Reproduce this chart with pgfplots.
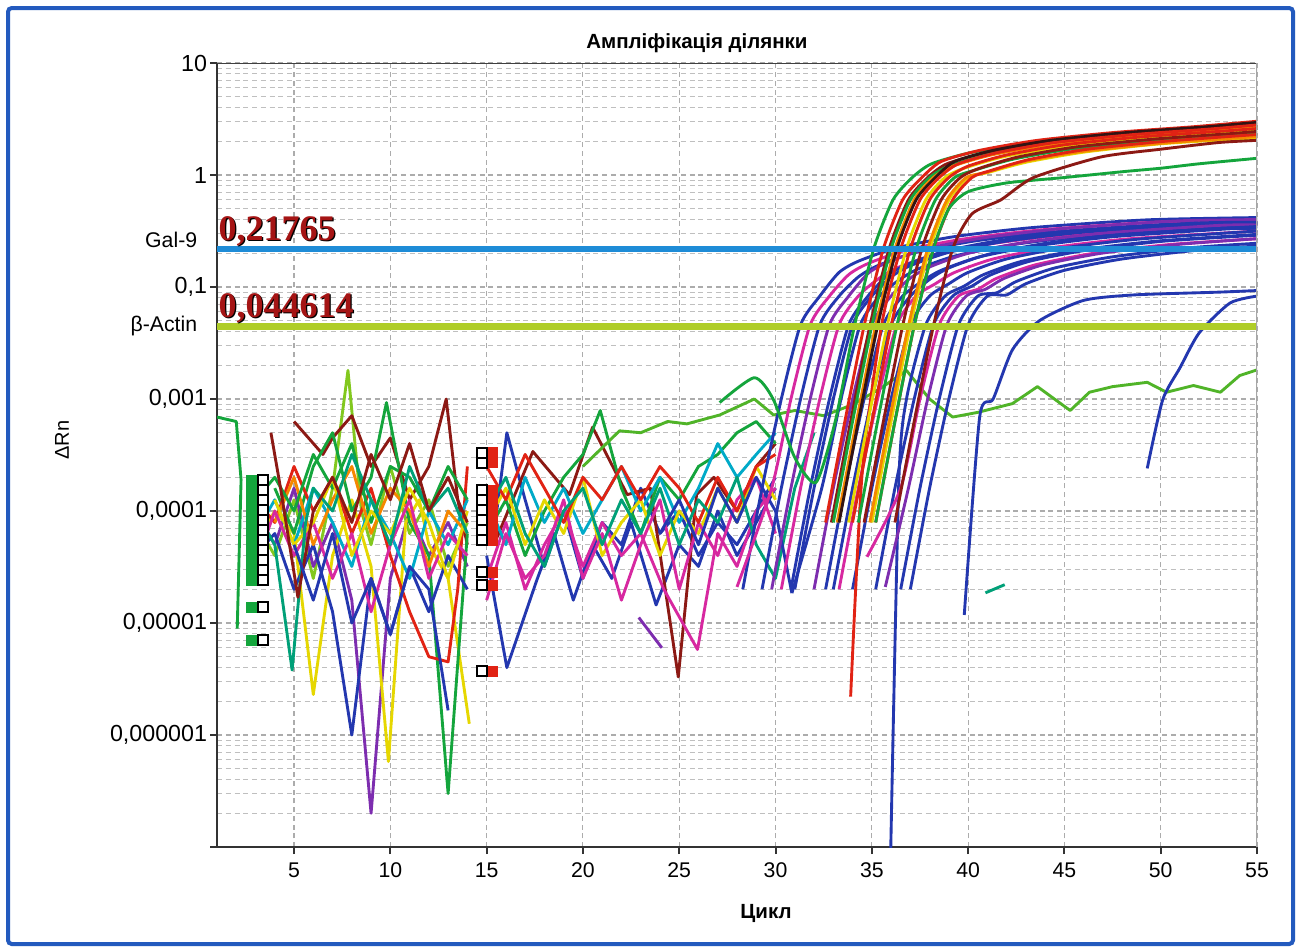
\documentclass[border=0pt]{standalone}
\usepackage{fontspec}
\setmainfont{Liberation Sans}
\newfontfamily\numfont{Liberation Serif}
\usepackage{pgfplots}
\pgfplotsset{compat=1.18}

\definecolor{cgreen}{RGB}{20,165,60}
\definecolor{clgreen}{RGB}{80,180,40}
\definecolor{clime}{RGB}{130,200,30}
\definecolor{cyellow}{RGB}{230,215,0}
\definecolor{cred}{RGB}{225,35,20}
\definecolor{cdred}{RGB}{140,25,20}
\definecolor{cdark}{RGB}{50,20,20}
\definecolor{cblue}{RGB}{35,55,175}
\definecolor{cpurple}{RGB}{125,45,175}
\definecolor{cmag}{RGB}{215,40,160}
\definecolor{ccyan}{RGB}{0,170,200}
\definecolor{corange}{RGB}{245,135,0}
\definecolor{cteal}{RGB}{0,160,120}
\definecolor{galblue}{RGB}{30,140,215}
\definecolor{actgreen}{RGB}{175,205,40}
\definecolor{frameblue}{RGB}{35,90,190}
\definecolor{numred}{RGB}{165,20,20}

\pgfplotsset{
  noise/.style={line width=1.15pt, line join=round},
  amp/.style={line width=1.15pt, line join=round, smooth, tension=0.4},
}

\begin{document}
\begin{tikzpicture}
\fill[white] (0,0) rectangle (520.4pt,-380.8pt);
\draw[frameblue, line width=1.6pt, rounded corners=1.5pt] (3.2pt,-3.2pt) rectangle (517.2pt,-377.6pt);

\begin{axis}[
  at={(86.8pt,-338.8pt)}, anchor=south west,
  scale only axis, width=416pt, height=313.6pt,
  xmin=1, xmax=55, ymode=log, ymin=1e-6, ymax=10,
  axis x line*=bottom, axis y line*=left,
  axis line style={line width=1.1pt, black!80},
  tick align=outside, major tick length=2.8pt, minor tick length=0pt,
  tick style={black!80, line width=0.8pt},
  xtick={5,10,...,55},
  ytick={10,1,0.1,0.01,0.001,0.0001,0.00001,0.000001},
  yticklabels={10,1,{0,1},{0,001},{0,0001},{0,00001},{0,000001},{}},
  minor ytick={2e-6,3e-6,4e-6,5e-6,6e-6,7e-6,8e-6,9e-6,2e-5,3e-5,4e-5,5e-5,6e-5,7e-5,8e-5,9e-5,2e-4,3e-4,4e-4,5e-4,6e-4,7e-4,8e-4,9e-4,0.002,0.003,0.004,0.005,0.006,0.007,0.008,0.009,0.02,0.03,0.04,0.05,0.06,0.07,0.08,0.09,0.2,0.3,0.4,0.5,0.6,0.7,0.8,0.9,2,3,4,5,6,7,8,9},
  /pgf/number format/assume math mode=true,
  xticklabel style={font=\fontsize{8.5}{10}\selectfont},
  yticklabel style={font=\fontsize{9.3}{10}\selectfont, inner sep=1pt},
  xmajorgrids, ymajorgrids, yminorgrids,
  major grid style={dash pattern=on 2pt off 1.5pt, gray!65, line width=0.45pt},
  minor grid style={dash pattern=on 2pt off 1.5pt, gray!50, line width=0.45pt},
]

% --- baseline noise, cycles 1-14
\addplot[noise, cgreen] coordinates {(1,6.9e-3)(2,6.3e-3)(2.25,1.9e-3)(2.05,8.9e-5)};
\addplot[noise, clime] coordinates {(3,7.9e-4)(4,4.0e-4)(5,1.26e-3)(6,2.5e-4)(7,1.6e-3)(7.8,1.8e-2)(8.5,1.0e-3)(9,5.0e-4)(10,2.5e-3)(11,6.3e-4)(12,1.26e-3)(13,3.2e-4)(14,7.9e-4)};
\addplot[noise, cdred] coordinates {(5,6.3e-3)(6.5,3.2e-3)(7,4.5e-3)(8,7.1e-3)(9,2.5e-3)(10,4.5e-3)(11,1.26e-3)(12,2.5e-3)(12.9,1.0e-2)(13.5,1.26e-3)(14,5.0e-4)};
\addplot[noise, cpurple] coordinates {(3,1.0e-3)(4,5.0e-4)(5,1.6e-3)(6,3.2e-4)(7,7.9e-4)(8,1.6e-4)(9,2.0e-6)(10,2.5e-4)(11,1.0e-3)(12,4.0e-4)(13,7.9e-4)(14,3.2e-4)};
\addplot[noise, cyellow] coordinates {(3,5.0e-4)(4,1.0e-3)(5,6.3e-4)(6,2.3e-5)(7,4.0e-4)(8,1.26e-3)(9,3.2e-4)(9.9,5.8e-6)(10.8,7.9e-4)(11.5,1.26e-3)(12,5.0e-4)(13,2.5e-4)(14.1,1.26e-5)};
\addplot[noise, cgreen] coordinates {(4,1.6e-3)(5,6.3e-4)(6,2.5e-3)(7,5.0e-3)(8,1.0e-3)(9,2.0e-3)(9.8,9.3e-3)(11,7.9e-4)(12,4.0e-4)(13,3.0e-6)(14,6.3e-4)};
\addplot[noise, cblue] coordinates {(3,4.0e-4)(4,6.3e-4)(5,2.0e-4)(6,5.0e-4)(7,1.26e-4)(8,1.0e-5)(9,2.5e-4)(10,7.9e-5)(11,3.2e-4)(12,1.26e-4)(13,4.0e-4)(14,2.0e-4)};
\addplot[noise, cred] coordinates {(3,1.26e-3)(4,7.9e-4)(5,2.5e-3)(6,1.0e-3)(7,2.0e-3)(8,6.3e-4)(9,1.6e-3)(10,4.0e-4)(11,1.26e-4)(12,5.0e-5)(13,4.5e-5)(13.5,2.0e-4)(14,2.5e-3)};
\addplot[noise, ccyan] coordinates {(3,6.3e-4)(4,1.26e-3)(5,5.0e-4)(6,1.6e-3)(7,7.9e-4)(8,3.2e-4)(9,1.26e-3)(10,6.3e-4)(11,2.5e-4)(12,1.0e-3)(13,5.0e-4)(14,1.26e-3)};
\addplot[noise, corange] coordinates {(4,7.9e-4)(5,2.0e-3)(6,5.0e-4)(7,1.26e-3)(8,2.5e-3)(9,6.3e-4)(10,1.6e-3)(11,1.0e-3)(12,3.2e-4)(13,1.0e-3)(14,6.3e-4)};
\addplot[noise, cmag] coordinates {(3,3.2e-4)(4,1.0e-3)(5,4.0e-4)(6,7.9e-4)(7,2.5e-4)(8,6.3e-4)(9,1.26e-4)(10,5.0e-4)(11,1.26e-3)(12,2.5e-4)(13,6.3e-4)(14,4.0e-4)};
\addplot[noise, cgreen] coordinates {(3,1.26e-3)(4,2.0e-3)(5,1.0e-3)(6,3.2e-3)(7,1.6e-3)(8,4.0e-3)(9,7.9e-4)(10,2.5e-3)(11,2.0e-3)(12,1.0e-3)(13,2.5e-3)(14,1.26e-3)};
\addplot[noise, cyellow] coordinates {(4,1.26e-3)(5,5.0e-4)(6,7.9e-4)(7,2.0e-3)(8,4.0e-4)(9,1.0e-3)(10,6.3e-4)(11,1.6e-3)(12,7.9e-4)(13,2.5e-4)(14,1.0e-3)};
\addplot[noise, cteal] coordinates {(3,1.0e-3)(4,5.0e-4)(4.9,3.8e-5)(5.6,7.9e-4)(6,1.6e-3)(7,1.0e-3)(8,3.2e-3)(9,1.26e-3)(10,5.0e-4)(11,2.5e-3)(12,1.0e-3)(13,1.6e-3)(14,6.3e-4)};
\addplot[noise, cdred] coordinates {(3.8,5.0e-3)(4.3,1.6e-3)(5.2,1.7e-4)(6,1.0e-3)(7,2.0e-3)(8,7.9e-4)(9,3.2e-3)(10,1.26e-3)(11,4.0e-3)(12,1.0e-3)(13,2.0e-3)(14,7.9e-4)};
\addplot[noise, cblue] coordinates {(5,5.0e-4)(6,1.6e-4)(7,6.3e-4)(8,1.0e-4)(9,2.5e-4)(10,7.9e-5)(11,3.2e-4)(12,2.0e-4)(13,1.66e-5)};

% --- baseline noise, cycles 15-31
\addplot[noise, cblue] coordinates {(15,4.0e-4)(16.05,4.0e-5)(17.6,2.4e-4)(18.5,6.3e-4)(19.5,1.6e-4)(20.5,5.0e-4)(21.5,2.5e-4)(22.5,7.9e-4)(23.8,1.45e-4)(25,5.0e-4)(26,3.2e-4)(27,1.0e-3)(28,4.0e-4)(29,7.9e-4)(30,1.6e-3)};
\addplot[noise, cblue] coordinates {(15.3,5.0e-4)(16.05,5.0e-3)(17,1.26e-3)(18,3.2e-4)(19,1.0e-3)(20,2.5e-4)(21,7.9e-4)(22,5.0e-4)(23,1.6e-3)(24,6.3e-4)(25,1.0e-3)(26,4.0e-4)(27,7.9e-4)(28,5.0e-4)(29,1.0e-3)(30,2.0e-3)};
\addplot[noise, cdred] coordinates {(15,1.0e-3)(15.5,5.6e-4)(17.4,3.4e-3)(19.3,1.4e-3)(20.5,5.6e-3)(22.3,1.4e-3)(23.5,1.6e-3)(24.95,3.3e-5)(25.9,1.4e-3)(26.8,2.0e-3)(28,1.0e-3)(29,2.5e-3)(30,4.0e-3)};
\addplot[noise, cmag] coordinates {(15,2.5e-4)(16,7.9e-4)(17,2.0e-4)(18,5.0e-4)(19,1.0e-3)(20,3.2e-4)(21,7.9e-4)(22,4.0e-4)(23,6.3e-4)(24.2,2.0e-4)(25.95,5.8e-5)(27,6.3e-4)(28,3.2e-4)(29,1.0e-3)(30,1.6e-3)};
\addplot[noise, cgreen] coordinates {(15,6.3e-4)(16,1.26e-3)(17,4.0e-4)(18,1.0e-3)(19,2.0e-3)(20,3.2e-3)(20.9,7.9e-3)(22,1.6e-3)(23,6.3e-4)(24,2.0e-3)(25,1.26e-3)(26,2.5e-3)(27,3.2e-3)(28,5.0e-3)(29,6.3e-3)(30,4.0e-3)};
\addplot[noise, cpurple] coordinates {(22.9,1.12e-4)(24.1,6.0e-5)};
\addplot[noise, ccyan] coordinates {(15,1.26e-3)(16,5.0e-4)(17,2.0e-3)(18,7.9e-4)(19,1.6e-3)(20,6.3e-4)(21,1.26e-3)(22,2.5e-3)(23,1.0e-3)(24,2.0e-3)(25,7.9e-4)(26,1.6e-3)(27,4.0e-3)(28,2.0e-3)(29,3.2e-3)(30,5.0e-3)};
\addplot[noise, cyellow] coordinates {(15,7.9e-4)(16,1.6e-3)(17,5.0e-4)(18,1.26e-3)(19,6.3e-4)(20,2.0e-3)(21,4.0e-4)(22,7.9e-4)(23,1.26e-3)(24,4.0e-4)(25,1.0e-3)(26,6.3e-4)(27,1.6e-3)(28,7.9e-4)(29,2.5e-3)(30,1.26e-3)};
\addplot[noise, cmag] coordinates {(15,1.6e-4)(16,6.3e-4)(17,2.5e-4)(18,4.0e-4)(19,1.26e-3)(20,2.5e-4)(21,6.3e-4)(22,1.6e-4)(23,5.0e-4)(24,1.26e-3)(25,2.0e-4)(26,7.9e-4)(27,4.0e-4)(28,1.26e-3)(29,2.0e-3)(30,6.3e-4)};
\addplot[noise, cred] coordinates {(15,2.5e-3)(16,1.26e-3)(17,3.2e-3)(18,1.6e-3)(19,7.9e-4)(20,2.0e-3)(21,1.26e-3)(22,2.5e-3)(23,1.26e-3)(24,2.5e-3)(25,1.6e-3)(26,7.9e-4)(27,2.0e-3)(28,1.0e-3)(29,2.5e-3)(30,3.2e-3)};
\addplot[noise, cteal] coordinates {(15,1.0e-3)(16,2.0e-3)(17,6.3e-4)(18,3.2e-4)(19,1.0e-3)(20,1.6e-3)(21,5.0e-4)(22,1.26e-3)(23,6.3e-4)(24,1.6e-3)(25,5.0e-4)(26,1.26e-3)(27,7.9e-4)(28,2.0e-3)(29,5.0e-4)(30,2.5e-4)(31,1.6e-3)(32,5.0e-3)};
\addplot[noise, cblue] coordinates {(24,6.3e-4)(25,1.26e-3)(26,5.0e-4)(27,1.6e-3)(28,7.9e-4)(29,2.0e-3)(30,1.0e-3)(30.85,1.85e-4)};
\addplot[noise, clgreen] coordinates {(20,2.5e-3)(21.9,5.2e-3)(23,5.0e-3)(24.4,6.3e-3)(25.4,6.0e-3)(27.1,7.2e-3)(28.9,1.0e-2)(29.9,7.2e-3)(31,7.9e-3)(32.5,7.1e-3)(34,8.9e-3)(35.5,1.26e-2)(36.8,1.8e-2)(38,1.0e-2)(39.2,6.9e-3)(40.5,7.6e-3)(42.3,9.1e-3)(43.6,1.29e-2)(45.3,7.9e-3)(46.3,1.15e-2)(47.5,1.29e-2)(49.3,1.41e-2)(50.3,1.15e-2)(51.7,1.32e-2)(53.1,1.15e-2)(54.1,1.62e-2)(55,1.82e-2)};
\addplot[noise, cteal] coordinates {(40.9,1.86e-4)(41.9,2.2e-4)};

% --- Gal-9 wells
\addplot[amp, cblue] coordinates {(28.3,2.0e-4)(29.3,1.6e-3)(30.3,1.0e-2)(31.3,4.6e-2)(32.3,8.3e-2)(33.3,0.135)(34.3,0.17)(36.3,0.224)(39.3,0.282)(43.3,0.339)(49.3,0.398)(55,0.417)};
\addplot[amp, cmag] coordinates {(28,2.1e-4)(29.8,1.6e-3)(30.8,1.0e-2)(31.8,4.6e-2)(32.8,8.3e-2)(33.8,0.129)(34.8,0.162)(36.8,0.214)(39.8,0.269)(43.8,0.324)(49.8,0.38)(55,0.39)};
\addplot[amp, cblue] coordinates {(29.3,2.0e-4)(30.3,1.6e-3)(31.3,1.0e-2)(32.3,4.6e-2)(33.3,8.3e-2)(34.3,0.123)(35.3,0.155)(37.3,0.204)(40.3,0.257)(44.3,0.309)(50.3,0.363)(55,0.37)};
\addplot[amp, cpurple] coordinates {(29.8,2.0e-4)(30.8,1.6e-3)(31.8,1.0e-2)(32.8,4.6e-2)(33.8,8.3e-2)(34.8,0.132)(35.8,0.166)(37.8,0.219)(40.8,0.275)(44.8,0.331)(50.8,0.389)(55,0.40)};
\addplot[amp, cmag] coordinates {(30.3,2.0e-4)(31.3,1.6e-3)(32.3,1.0e-2)(33.3,4.6e-2)(34.3,8.3e-2)(35.3,0.117)(36.3,0.148)(38.3,0.195)(41.3,0.245)(45.3,0.295)(51.3,0.347)(55,0.355)};
\addplot[amp, cblue] coordinates {(30.8,2.0e-4)(31.8,1.6e-3)(32.8,1.0e-2)(33.8,4.6e-2)(34.8,8.3e-2)(35.8,0.126)(36.8,0.158)(38.8,0.209)(41.8,0.263)(45.8,0.316)(51.8,0.372)(55,0.378)};
\addplot[amp, cblue] coordinates {(31,2.0e-4)(32,1.6e-3)(33,1.0e-2)(34,4.6e-2)(35,8.3e-2)(36,0.123)(37,0.155)(39,0.204)(42,0.257)(46,0.309)(52,0.363)(55,0.368)};
\addplot[amp, cblue] coordinates {(30.85,1.85e-4)(32.4,1.6e-3)(33.4,1.0e-2)(34.4,4.6e-2)(35.4,8.3e-2)(36.4,0.115)(37.4,0.145)(39.4,0.191)(42.4,0.240)(46.4,0.288)(52.4,0.339)(55,0.342)};
\addplot[amp, cpurple] coordinates {(32,2.0e-4)(33,1.6e-3)(34,1.0e-2)(35,4.6e-2)(36,8.3e-2)(37,0.120)(38,0.151)(40,0.200)(43,0.251)(47,0.302)(53,0.355)(55,0.358)};
\addplot[amp, cblue] coordinates {(32.6,2.0e-4)(33.6,1.6e-3)(34.6,1.0e-2)(35.6,4.6e-2)(36.6,8.3e-2)(37.6,0.112)(38.6,0.141)(40.6,0.186)(43.6,0.234)(47.6,0.282)(53.6,0.331)(55,0.333)};
\addplot[amp, cblue] coordinates {(33,2.0e-4)(34,1.6e-3)(35,1.0e-2)(36,4.6e-2)(37,8.3e-2)(38,0.117)(39,0.148)(41,0.195)(44,0.245)(48,0.295)(55,0.347)};
\addplot[amp, cmag] coordinates {(33.3,2.0e-4)(34.3,1.6e-3)(35.3,1.0e-2)(36.3,4.6e-2)(37.3,8.3e-2)(38.3,0.107)(39.3,0.135)(41.3,0.178)(44.3,0.224)(48.3,0.269)(55,0.316)};
\addplot[amp, cblue] coordinates {(34,2.0e-4)(35,1.6e-3)(36,1.0e-2)(37,4.6e-2)(38,8.3e-2)(39,0.107)(40,0.135)(42,0.178)(45,0.224)(49,0.269)(55,0.316)};
\addplot[amp, cblue] coordinates {(35.95,5.0e-7)(36.4,1.8e-3)(36.8,1.0e-2)(37.8,4.6e-2)(38.8,8.3e-2)(39.8,0.102)(40.8,0.129)(42.8,0.170)(45.8,0.214)(49.8,0.257)(55,0.295)};
\addplot[amp, cblue] coordinates {(35.2,2.0e-4)(36.2,1.6e-3)(37.2,1.0e-2)(38.2,4.6e-2)(39.2,8.3e-2)(40.2,0.102)(41.2,0.129)(43.2,0.170)(46.2,0.214)(50.2,0.257)(55,0.29)};
\addplot[amp, cmag] coordinates {(34.75,3.9e-4)(36.5,1.6e-3)(37.5,1.0e-2)(38.5,4.6e-2)(39.5,8.3e-2)(40.5,0.0955)(41.5,0.120)(43.5,0.158)(46.5,0.200)(50.5,0.240)(55,0.27)};
\addplot[amp, cpurple] coordinates {(35.7,2.1e-4)(36.9,1.6e-3)(37.9,1.0e-2)(38.9,4.6e-2)(39.9,8.3e-2)(40.9,0.0955)(41.9,0.120)(43.9,0.158)(46.9,0.200)(50.9,0.240)(55,0.27)};
\addplot[amp, cblue] coordinates {(36.5,2.0e-4)(37.5,1.6e-3)(38.5,1.0e-2)(39.5,4.6e-2)(40.5,8.3e-2)(41.5,0.089)(42.5,0.112)(44.5,0.148)(47.5,0.186)(51.5,0.224)(55,0.246)};
\addplot[amp, cblue] coordinates {(37,2.0e-4)(38,1.6e-3)(39,1.0e-2)(40,4.6e-2)(41,8.3e-2)(42,0.085)(43,0.107)(45,0.141)(48,0.178)(52,0.214)(55,0.232)};
\addplot[amp, cblue] coordinates {(39.8,1.18e-4)(40.6,6.9e-3)(41.3,1.0e-2)(42.3,2.75e-2)(43.7,5.0e-2)(46,7.6e-2)(48.6,8.5e-2)(53,9.0e-2)(55,9.3e-2)};
\addplot[amp, cblue] coordinates {(49.3,2.4e-3)(50.1,9.8e-3)(51,1.9e-2)(52,3.9e-2)(53.6,7.2e-2)(55,8.3e-2)};

% --- beta-Actin wells
\addplot[amp, cgreen] coordinates {(27.1,9.3e-3)(28.9,1.55e-2)(29.9,9.8e-3)(31,3.0e-3)(32.1,1.8e-3)(33.1,6.3e-3)(34.1,4.5e-2)(35.1,0.22)(36.1,0.60)(37.1,0.95)(38.1,1.26)(40.1,1.58)(43.1,1.95)(47.1,2.29)(51.1,2.57)(55,2.88)};
\addplot[amp, cred] coordinates {(32.6,7.9e-4)(33.6,6.3e-3)(34.6,4.5e-2)(35.6,0.22)(36.6,0.60)(37.6,0.95)(38.6,1.32)(40.6,1.66)(43.6,2.04)(47.6,2.40)(51.6,2.69)(55,3.02)};
\addplot[amp, cdred] coordinates {(32.9,7.9e-4)(33.9,6.3e-3)(34.9,4.5e-2)(35.9,0.22)(36.9,0.60)(37.9,0.95)(38.9,1.26)(40.9,1.58)(43.9,1.95)(47.9,2.29)(51.9,2.57)(55,2.88)};
\addplot[amp, cgreen] coordinates {(33,7.9e-4)(34,6.3e-3)(35,4.5e-2)(36,0.22)(37,0.60)(38,0.95)(39,1.20)(41,1.51)(44,1.86)(48,2.19)(52,2.45)(55,2.75)};
\addplot[amp, corange] coordinates {(33.2,7.9e-4)(34.2,6.3e-3)(35.2,4.5e-2)(36.2,0.22)(37.2,0.60)(38.2,0.95)(39.2,1.20)(41.2,1.51)(44.2,1.86)(48.2,2.19)(52.2,2.45)(55,2.72)};
\addplot[amp, cdark] coordinates {(33.3,7.9e-4)(34.3,6.3e-3)(35.3,4.5e-2)(36.3,0.22)(37.3,0.60)(38.3,0.95)(39.3,1.32)(41.3,1.66)(44.3,2.04)(48.3,2.40)(52.3,2.69)(55,2.95)};
\addplot[amp, cred] coordinates {(33.9,2.2e-5)(34.5,2.2e-3)(35.5,4.5e-2)(36.5,0.22)(37.5,0.60)(38.5,0.95)(39.5,1.26)(41.5,1.58)(44.5,1.95)(48.5,2.29)(52.5,2.57)(55,2.8)};
\addplot[amp, cyellow] coordinates {(33.8,7.9e-4)(34.8,6.3e-3)(35.8,4.5e-2)(36.8,0.22)(37.8,0.60)(38.8,0.95)(39.8,1.15)(41.8,1.45)(44.8,1.78)(48.8,2.09)(52.8,2.34)(55,2.5)};
\addplot[amp, cred] coordinates {(34,7.9e-4)(35,6.3e-3)(36,4.5e-2)(37,0.22)(38,0.60)(39,0.95)(40,1.20)(42,1.51)(45,1.86)(49,2.19)(53,2.45)(55,2.6)};
\addplot[amp, cgreen] coordinates {(34.3,7.9e-4)(35.3,6.3e-3)(36.3,4.5e-2)(37.3,0.22)(38.3,0.60)(39.3,0.95)(40.3,1.10)(42.3,1.38)(45.3,1.70)(49.3,2.0)(53.3,2.24)(55,2.35)};
\addplot[amp, cdred] coordinates {(34.6,7.9e-4)(35.6,6.3e-3)(36.6,4.5e-2)(37.6,0.22)(38.6,0.60)(39.6,0.95)(40.6,1.15)(42.6,1.45)(45.6,1.78)(49.6,2.09)(53.6,2.34)(55,2.45)};
\addplot[amp, cyellow] coordinates {(35,7.9e-4)(36,6.3e-3)(37,4.5e-2)(38,0.22)(39,0.60)(40,0.95)(41,1.05)(43,1.3)(46,1.6)(50,1.9)(55,2.15)};
\addplot[amp, corange] coordinates {(34.9,7.9e-4)(35.9,6.3e-3)(36.9,4.5e-2)(37.9,0.22)(38.9,0.60)(39.9,0.95)(40.9,1.05)(42.9,1.32)(45.9,1.62)(49.9,1.91)(53.9,2.14)(55,2.2)};
\addplot[amp, cred] coordinates {(35.2,7.9e-4)(36.2,6.3e-3)(37.2,4.5e-2)(38.2,0.22)(39.2,0.60)(40.2,0.95)(41.2,1.10)(43.2,1.38)(46.2,1.70)(50.2,2.0)(55,2.3)};
\addplot[amp, cgreen] coordinates {(35.2,7.9e-4)(36.2,6.3e-3)(37.2,4.5e-2)(38.2,0.22)(39,0.5)(40,0.71)(42,0.85)(45,0.95)(48,1.07)(50,1.15)(52,1.26)(55,1.41)};
\addplot[amp, cdred] coordinates {(36.2,7.9e-4)(37.2,6.3e-3)(38.2,4.5e-2)(39.2,0.22)(40.2,0.45)(41.7,0.6)(43.4,0.95)(46.9,1.45)(50,1.7)(53,1.95)(55,2.04)};

% --- thresholds
\addplot[galblue, line width=2.3pt] coordinates {(1,0.21765)(55,0.21765)};
\addplot[actgreen, line width=2.6pt] coordinates {(1,0.044614)(55,0.044614)};

% --- baseline start / end markers
\addplot[only marks, mark=square*, mark size=2pt, mark options={draw=cgreen, fill=cgreen}] coordinates {(2.77,1.89e-3)(2.77,1.54e-3)(2.77,1.25e-3)(2.77,1.02e-3)(2.77,8.3e-4)(2.77,6.8e-4)(2.77,5.5e-4)(2.77,4.49e-4)(2.77,3.65e-4)(2.77,2.97e-4)(2.77,2.42e-4)(2.77,1.39e-4)(2.77,7.05e-5)};
\addplot[only marks, mark=square*, mark size=2pt, mark options={draw=black, fill=white, line width=0.6pt}] coordinates {(3.39,1.89e-3)(3.39,1.54e-3)(3.39,1.25e-3)(3.39,1.02e-3)(3.39,8.3e-4)(3.39,6.8e-4)(3.39,5.5e-4)(3.39,4.49e-4)(3.39,3.65e-4)(3.39,2.97e-4)(3.39,2.42e-4)(3.39,1.39e-4)(3.39,7.05e-5)};
\addplot[only marks, mark=square*, mark size=2pt, mark options={draw=cred, fill=cred}] coordinates {(15.33,3.30e-3)(15.33,2.69e-3)(15.33,1.54e-3)(15.33,1.25e-3)(15.33,1.02e-3)(15.33,8.3e-4)(15.33,6.8e-4)(15.33,5.5e-4)(15.33,2.85e-4)(15.33,2.18e-4)(15.33,3.72e-5)};
\addplot[only marks, mark=square*, mark size=2pt, mark options={draw=black, fill=white, line width=0.6pt}] coordinates {(14.76,3.30e-3)(14.76,2.69e-3)(14.76,1.54e-3)(14.76,1.25e-3)(14.76,1.02e-3)(14.76,8.3e-4)(14.76,6.8e-4)(14.76,5.5e-4)(14.76,2.85e-4)(14.76,2.18e-4)(14.76,3.72e-5)};

\draw[black!75, line width=0.8pt] (rel axis cs:0,1) -- (rel axis cs:1,1);
\draw[gray!70, line width=0.5pt] (rel axis cs:1,0) -- (rel axis cs:1,1);
\coordinate (galL) at (axis cs:1,0.21765);
\coordinate (actL) at (axis cs:1,0.044614);
\end{axis}

% labels
\node[font=\bfseries\fontsize{8.2}{10}\selectfont] at (278.8pt,-17.2pt) {Ампліфікація ділянки};
\node[font=\bfseries\fontsize{8.2}{10}\selectfont] at (306.4pt,-365.2pt) {Цикл};
\node[font=\fontsize{8}{10}\selectfont, rotate=90] at (24.8pt,-176pt) {ΔRn};
\node[font=\fontsize{8.5}{10}\selectfont, anchor=east] at ([xshift=-4.4pt, yshift=3.6pt]galL) {Gal-9};
\node[font=\fontsize{8.5}{10}\selectfont, anchor=east] at ([xshift=-4.4pt]actL) {β-Actin};
\node[font=\numfont\bfseries\fontsize{14.4}{16}\selectfont, text=black, anchor=south west, inner sep=0pt] at ([xshift=0.9pt, yshift=0.7pt]galL) {0,21765};
\node[font=\numfont\bfseries\fontsize{14.4}{16}\selectfont, text=numred, anchor=south west, inner sep=0pt] at ([xshift=0.4pt, yshift=1.2pt]galL) {0,21765};
\node[font=\numfont\bfseries\fontsize{14.4}{16}\selectfont, text=black, anchor=south west, inner sep=0pt] at ([xshift=0.9pt, yshift=0.7pt]actL) {0,044614};
\node[font=\numfont\bfseries\fontsize{14.4}{16}\selectfont, text=numred, anchor=south west, inner sep=0pt] at ([xshift=0.4pt, yshift=1.2pt]actL) {0,044614};
\end{tikzpicture}
\end{document}
